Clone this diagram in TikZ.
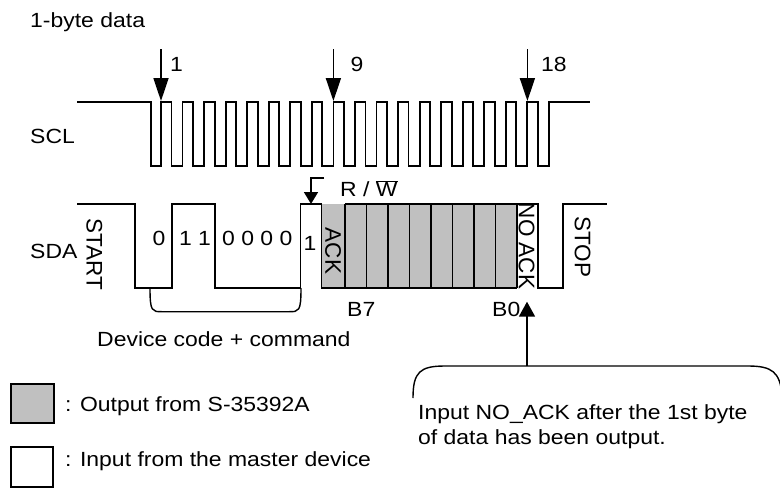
\documentclass[tikz,border=0pt]{standalone}
\usepackage{fontspec}
\setmainfont{Liberation Sans}[FakeStretch=1.12]
\newfontfamily\rotfont{Liberation Sans}
\usetikzlibrary{arrows.meta}
\definecolor{outgray}{RGB}{192,192,192}
\tikzset{
  wave/.style={line width=1.8pt},
  thin line/.style={line width=1.4pt},
  lbl/.style={inner sep=0pt, anchor=base west, font=\fontsize{20.5}{24}\selectfont},
  rottext/.style={inner sep=0pt, rotate=-90, font=\rotfont\fontsize{22.5}{26}\selectfont},
  bigarrow/.style={line width=1.8pt, -{Triangle[length=23pt,width=15pt]}},
  smallarrow/.style={line width=1.6pt, -{Triangle[length=12pt,width=14pt]}},
  uparrow/.style={line width=1.8pt, -{Triangle[length=15pt,width=16pt]}},
}
\begin{document}
\begin{tikzpicture}[x=1pt,y=-1pt]
\useasboundingbox (0,0) rectangle (780,488);

% title
\node[lbl] (title) at (30,27.3) {1-byte data};

% signal names
\node[lbl] (scl) at (30,143) {SCL};
\node[lbl] (sda) at (30,258) {SDA};

% SCL waveform
\draw[wave] (77,102) -- (151,102) -- (151,166)
  \foreach \k in {0,...,17} {
    -- ({161+21.55*\k},166) -- ({161+21.55*\k},102)
    -- ({171.5+21.55*\k},102) -- ({171.5+21.55*\k},166)
  } -- (549,166) -- (549,102) -- (590,102);

% clock markers
\coordinate (c1top) at (161,49);   \coordinate (c1) at (161,101);
\coordinate (c9top) at (333.4,49); \coordinate (c9) at (333.4,101);
\coordinate (c18top) at (527.4,49);\coordinate (c18) at (527.4,101);
\draw[bigarrow] (c1top) -- (c1);
\draw[bigarrow] (c9top) -- (c9);
\draw[bigarrow] (c18top) -- (c18);
\node[lbl] (n1) at (170,71.5) {1};
\node[lbl] (n9) at (350.5,71.5) {9};
\node[lbl] (n18) at (541,71.5) {18};

% SDA: gray output region
\fill[outgray] (321.5,204) rectangle (517,288);

% SDA waveform
\draw[wave] (77,204) -- (135,204) -- (135,288) -- (172,288) -- (172,204)
  -- (215,204) -- (215,288) -- (300.5,288) -- (300.5,204) -- (321.5,204)
  -- (321.5,288) -- (517,288);
\draw[wave] (345,204) -- (538,204) -- (538,288) -- (563,288) -- (563,204) -- (607,204);
\draw[wave] (345,204) -- (345,288);
\draw[wave] (517,204) -- (517,288);
\foreach \i in {1,...,7} {
  \draw[thin line] ({345+21.5*\i},204) -- ({345+21.5*\i},288);
}

% rotated labels
\node[rottext] (start) at (94.3,254) {START};
\node[rottext] (ack) at (333,251) {ACK};
\node[rottext] (noack) at (526.7,246) {NO ACK};
\node[rottext] (stop) at (582.5,246.7) {STOP};

% address bits
\node[lbl, anchor=base] (b0) at (159,245) {0};
\node[lbl, anchor=base] (b12) at (195,245) {1 1};
\node[lbl, anchor=base] (b36) at (257.3,245) {0 0 0 0};
\node[lbl, anchor=base] (b7) at (310,250) {1};

% R/W
\coordinate (rwstart) at (324,178);
\coordinate (rwcorner) at (311,178);
\coordinate (rwtip) at (311,204);
\draw[smallarrow] (rwstart) -- (rwcorner) -- (rwtip);
\node[lbl] (rw) at (340,196.7) {R / $\overline{\hbox{W}}$};

% bracket under device code
\draw[thin line] (150,288) .. controls (150,311.7) and (152,311.7) .. (162,311.7)
  -- (289,311.7) .. controls (299,311.7) and (301,311.7) .. (301,288);
\node[lbl] (dev) at (97,346) {Device code + command};

% B7 / B0
\node[lbl] (lb7) at (347,316.7) {B7};
\node[lbl] (lb0) at (492,316.7) {B0};

% callout
\draw[thin line] (413,398) .. controls (413,372) and (420,366) .. (445,366)
  -- (748,366) .. controls (772,366) and (780,372) .. (782,395);
\coordinate (calltop) at (527,366);
\coordinate (b0tip) at (527,301.7);
\draw[uparrow] (calltop) -- (b0tip);
\node[lbl] (call1) at (418,419) {Input NO\_ACK after the 1st byte};
\node[lbl] (call2) at (418,444) {of data has been output.};

% legend
\draw[thin line, fill=outgray] (11,384) rectangle (54,423);
\node[lbl] (leg1) at (65,411) {: Output from S-35392A};
\draw[thin line, fill=white] (11,447) rectangle (53,487);
\node[lbl] (leg2) at (65,466) {: Input from the master device};
\end{tikzpicture}
\end{document}
